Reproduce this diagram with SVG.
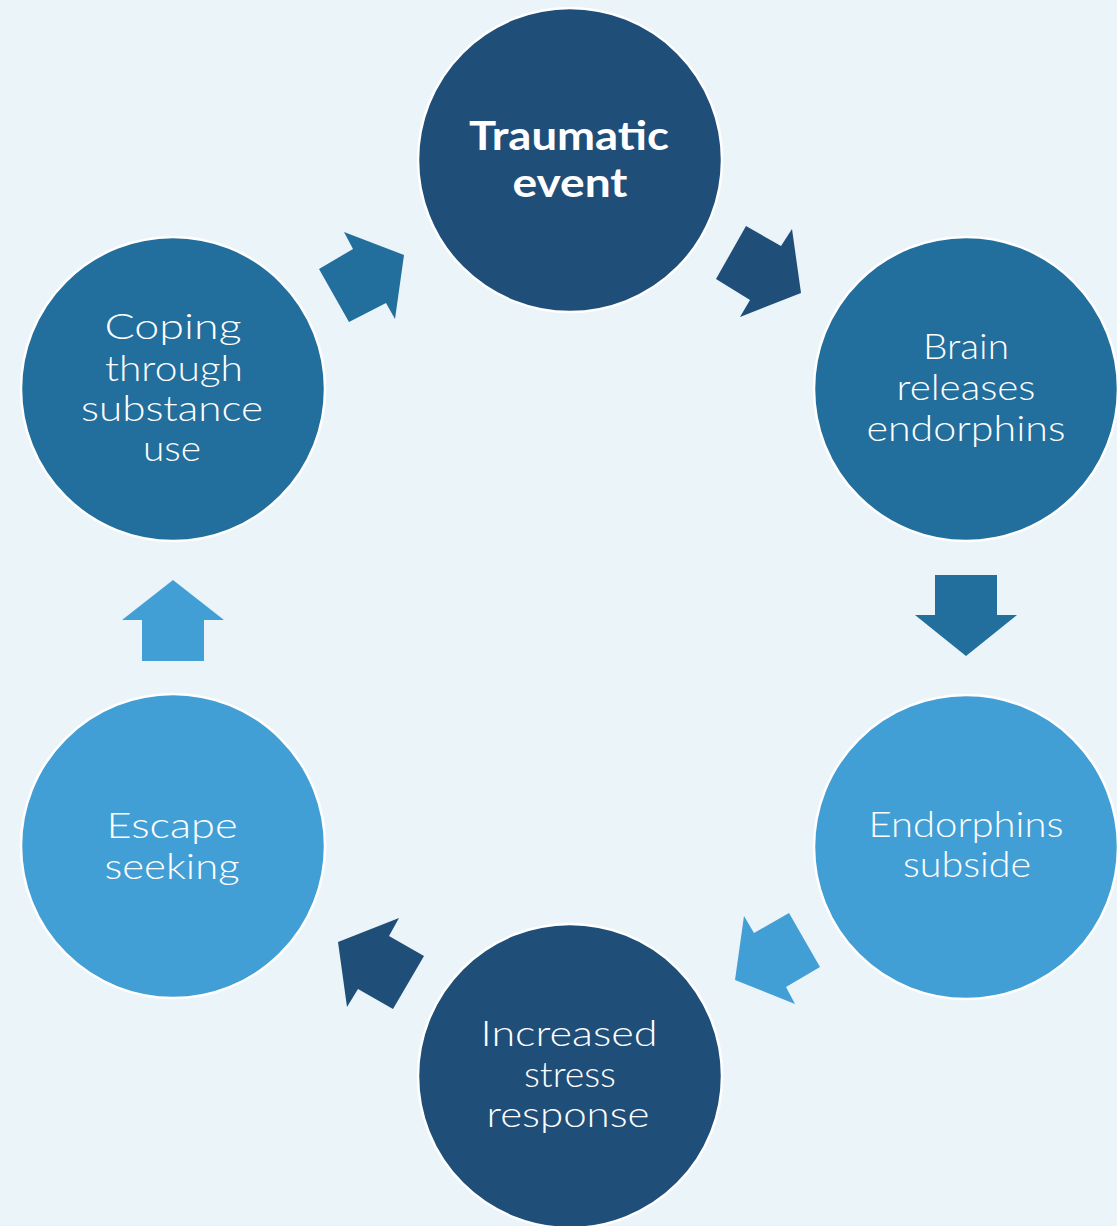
<svg xmlns="http://www.w3.org/2000/svg" width="1117" height="1226" viewBox="0 0 1117 1226">
<style>
.bg{fill:#EBF4F8}
.node{stroke:#FFFFFF;stroke-width:2.5}
.dark{fill:#1F4E79}
.mid{fill:#226E9C}
.light{fill:#429FD6}
.lbl{font-family:"Lato","Open Sans","Liberation Sans",sans-serif;font-size:36px;font-weight:300;fill:#FFFFFF;text-anchor:middle}
.bold{font-family:"Lato","Open Sans","Liberation Sans",sans-serif;font-size:41px;font-weight:700;fill:#FFFFFF;text-anchor:middle}
</style>
<rect class="bg" x="0" y="0" width="1117" height="1226"/>
<g id="connectors">
<polygon class="dark" points="746,226 781,246 792,229 801,293 740,317 750,300 716,279"/>
<polygon class="mid" points="935,575 997,575 997,615 1017,615 966,656 915,615 935,615"/>
<polygon class="light" points="789,913 820,967 786,987 795,1004 735,980 744,916 754,933"/>
<polygon class="dark" points="399,918 389,936 424,956 393,1009 358,989 347,1007 338,942"/>
<polygon class="light" points="173,580 224,620 204,620 204,661 142,661 142,620 122,620"/>
<polygon class="mid" points="344,232 404,255 395,319 386,303 349,322 319,269 353,249"/>
</g>
<g id="node-traumatic">
<circle class="node dark" cx="570" cy="160" r="152"/>
<text class="bold" x="569" y="150" textLength="200" lengthAdjust="spacingAndGlyphs">Traumatic</text>
<text class="bold" x="570" y="197" textLength="115" lengthAdjust="spacingAndGlyphs">event</text>
</g>
<g id="node-brain">
<circle class="node mid" cx="966" cy="389" r="152"/>
<text class="lbl" x="966" y="359" textLength="86" lengthAdjust="spacingAndGlyphs">Brain</text>
<text class="lbl" x="966" y="400" textLength="139" lengthAdjust="spacingAndGlyphs">releases</text>
<text class="lbl" x="966" y="441" textLength="199" lengthAdjust="spacingAndGlyphs">endorphins</text>
</g>
<g id="node-subside">
<circle class="node light" cx="966" cy="847" r="152"/>
<text class="lbl" x="966" y="837" textLength="195" lengthAdjust="spacingAndGlyphs">Endorphins</text>
<text class="lbl" x="967" y="877" textLength="128" lengthAdjust="spacingAndGlyphs">subside</text>
</g>
<g id="node-stress">
<circle class="node dark" cx="570" cy="1076" r="152"/>
<text class="lbl" x="569" y="1046" textLength="177" lengthAdjust="spacingAndGlyphs">Increased</text>
<text class="lbl" x="570" y="1087" textLength="92" lengthAdjust="spacingAndGlyphs">stress</text>
<text class="lbl" x="568" y="1127" textLength="163" lengthAdjust="spacingAndGlyphs">response</text>
</g>
<g id="node-escape">
<circle class="node light" cx="173" cy="846" r="152"/>
<text class="lbl" x="172" y="838" textLength="131" lengthAdjust="spacingAndGlyphs">Escape</text>
<text class="lbl" x="172" y="879" textLength="135" lengthAdjust="spacingAndGlyphs">seeking</text>
</g>
<g id="node-coping">
<circle class="node mid" cx="173" cy="389" r="152"/>
<text class="lbl" x="173" y="339" textLength="137" lengthAdjust="spacingAndGlyphs">Coping</text>
<text class="lbl" x="174" y="381" textLength="138" lengthAdjust="spacingAndGlyphs">through</text>
<text class="lbl" x="172" y="421" textLength="182" lengthAdjust="spacingAndGlyphs">substance</text>
<text class="lbl" x="172" y="461" textLength="58" lengthAdjust="spacingAndGlyphs">use</text>
</g>
</svg>
